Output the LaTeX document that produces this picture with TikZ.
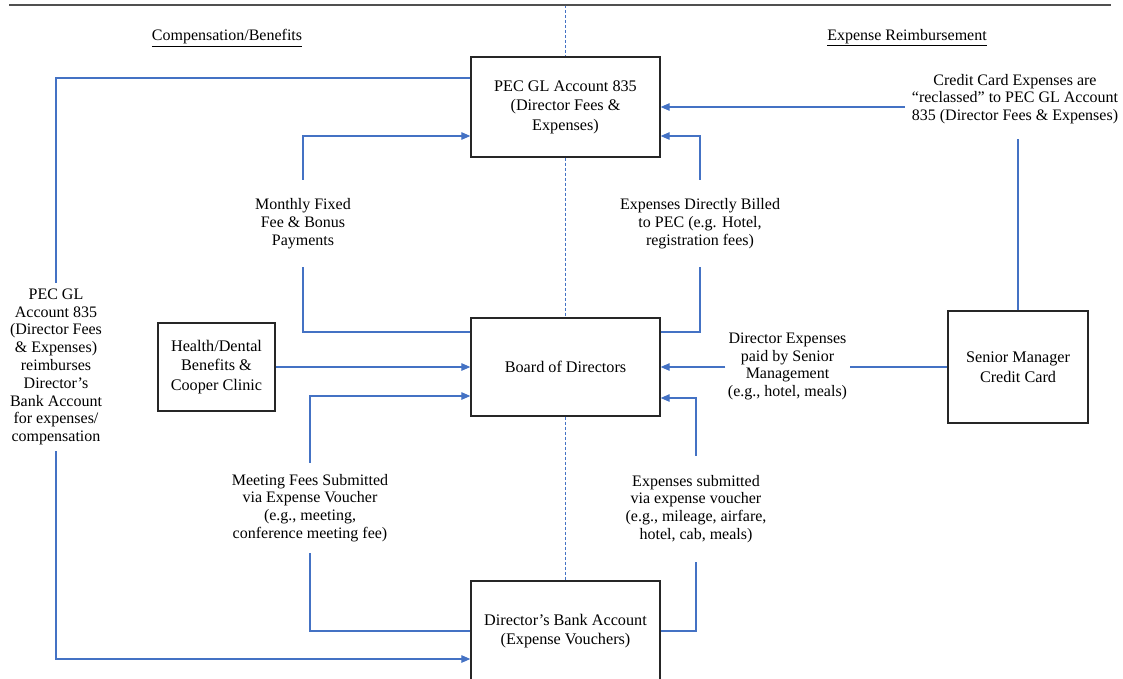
\documentclass[tikz,border=0pt]{standalone}
\usepackage{fontspec}
\setmainfont{Liberation Serif}
\usetikzlibrary{arrows.meta}
\definecolor{flowblue}{HTML}{4472C4}
\definecolor{rulegray}{HTML}{505050}
\begin{document}
\begin{tikzpicture}[x=1pt,y=-1pt,
  txt/.style={font=\fontsize{16}{17.8}\selectfont, align=center},
  box/.style={draw=black!85, line width=1.3pt, inner sep=2pt, align=center,
    font=\fontsize{16.2}{19.5}\selectfont},
  lbl/.style={txt, inner sep=0pt},
  flow/.style={draw=flowblue, line width=1.2pt},
  arr/.style={flow, -{Triangle[length=9pt,width=7.5pt]}},
  divider/.style={draw=flowblue, line width=1pt, dash pattern=on 3pt off 2pt},
  toprule/.style={draw=rulegray, line width=1.5pt}]
\useasboundingbox (0,0) rectangle (1123,679);

% main boxes
\node[box, minimum width=189pt, minimum height=100pt] (pec) at (565.5,107)
  {PEC GL Account 835\\(Director Fees \&\\Expenses)};
\node[box, minimum width=189pt, minimum height=98pt] (board) at (565.5,367)
  {Board of Directors};
\node[box, minimum width=189pt, minimum height=100pt] (bank) at (565.5,631)
  {Director’s Bank Account\\(Expense Vouchers)};
\node[box, minimum width=117pt, minimum height=88pt] (health) at (216.5,367)
  {Health/Dental\\Benefits \&\\Cooper Clinic};
\node[box, minimum width=140pt, minimum height=112pt] (smcc) at (1018,367)
  {Senior Manager\\Credit Card};

% column headings
\node[txt] (comp) at (227,38) {\underline{Compensation/Benefits}};
\node[txt] (expr) at (907,38) {\underline{Expense Reimbursement}};

% connector labels
\node[lbl, minimum height=87pt] (mfl) at (303,223.5)
  {Monthly Fixed\\Fee \& Bonus\\Payments};
\node[lbl, minimum height=87pt] (edbl) at (700,223.5)
  {Expenses Directly Billed\\to PEC (e.g. Hotel,\\registration fees)};
\node[lbl, minimum height=168pt] (pecl) at (56,367)
  {PEC GL\\Account 835\\(Director Fees\\\& Expenses)\\reimburses\\Director’s\\Bank Account\\for expenses/\\compensation};
\node[lbl, minimum height=90pt] (mtg) at (310,508)
  {Meeting Fees Submitted\\via Expense Voucher\\(e.g., meeting,\\conference meeting fee)};
\node[lbl, minimum height=106pt] (evl) at (696,509)
  {Expenses submitted\\via expense voucher\\(e.g., mileage, airfare,\\hotel, cab, meals)};
\node[lbl, inner xsep=7pt, minimum height=80pt] (ccl) at (1015,99)
  {Credit Card Expenses are\\“reclassed” to PEC GL Account\\835 (Director Fees \& Expenses)};
\node[lbl, minimum width=124pt] (dexp) at (787.5,366.5)
  {Director Expenses\\paid by Senior\\Management\\(e.g., hotel, meals)};

% top rule and centre divider
\coordinate (ruleL) at (9,5);
\coordinate (ruleR) at (1111,5);
\coordinate (topmid) at (565.5,5);
\draw[divider] (topmid) -- (pec.north);
\draw[divider] (pec.south) -- (board.north);
\draw[divider] (board.south) -- (bank.north);
\draw[toprule] (ruleL) -- (ruleR);

% compensation / benefits flows
\draw[flow] ([yshift=29pt]pec.west) -| (pecl.north);
\draw[arr] (pecl.south) |- ([yshift=-28pt]bank.west);
\draw[flow] ([yshift=35pt]board.west) -| (mfl.south);
\draw[arr] (mfl.north) |- ([yshift=-29pt]pec.west);
\draw[arr] (health.east) -- (board.west);
\draw[flow] (bank.west) -| (mtg.south);
\draw[arr] (mtg.north) |- ([yshift=-29pt]board.west);

% expense reimbursement flows
\draw[flow] ([yshift=35pt]board.east) -| (edbl.south);
\draw[arr] (edbl.north) |- ([yshift=-29pt]pec.east);
\draw[flow] (bank.east) -| (evl.south);
\draw[arr] (evl.north) |- ([yshift=-31pt]board.east);
\draw[flow] (smcc.north) -- (smcc.north |- ccl.south);
\draw[arr] (ccl.west |- pec.east) -- (pec.east);
\draw[flow] (smcc.west) -- (dexp.east |- smcc.west);
\draw[arr] (dexp.west |- board.east) -- (board.east);
\end{tikzpicture}
\end{document}
